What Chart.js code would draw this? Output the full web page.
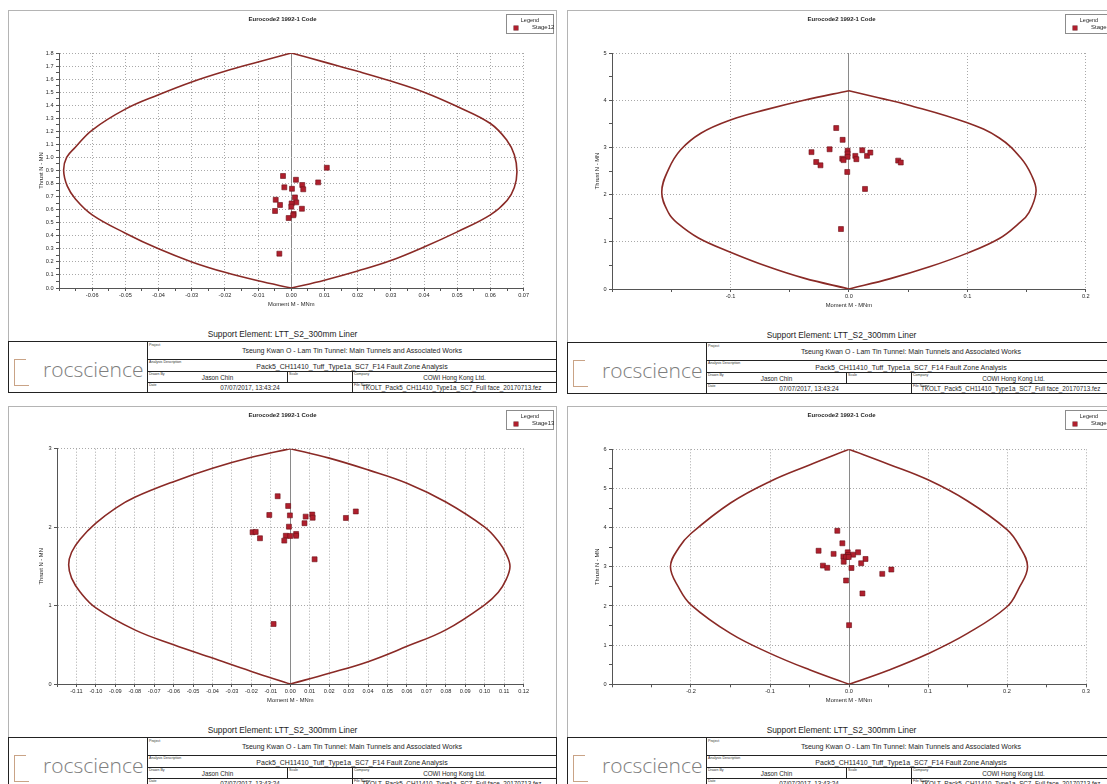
<!DOCTYPE html>
<html>
<head>
<meta charset="utf-8">
<title>Liner capacity plots – LTT_S2_300mm</title>
<script src="https://cdn.jsdelivr.net/npm/chart.js@4/dist/chart.umd.min.js"></script>
<style>
  html, body { margin: 0; padding: 0; background: #fff; }
  body { width: 1107px; height: 784px; overflow: hidden; position: relative;
         font-family: "Liberation Sans", Arial, sans-serif; color: #1e1e1e; }
  .panel { position: absolute; width: 549px; height: 400px; }
  .frame { position: absolute; left: 0; top: 0; width: 549px; border: 1px solid #b4b4b4; box-sizing: border-box; }
  .panel canvas { position: absolute; left: 0; top: 0; }
  .ptitle { position: absolute; left: 0; width: 549px; top: 5px; text-align: center; font-weight: bold; font-size: 6px; line-height: 8px; }
  .legend { position: absolute; left: 498px; top: 4px; width: 48px; height: 20px; border: 1px solid #8c8c8c; box-sizing: border-box; background: #fff; font-size: 6px; line-height: 7px; }
  .legend .lh { position: absolute; left: 0; width: 46px; top: 1.5px; text-align: center; font-size: 5.5px; }
  .legend .lm { position: absolute; left: 7px; top: 10.5px; width: 4px; height: 4px; background: #b01f2d; box-shadow: 0 0 0 0.5px #6a1018; }
  .legend .lt { position: absolute; left: 25px; top: 9px; white-space: nowrap; }
  .caption { position: absolute; left: 0; width: 549px; text-align: center; font-size: 8.4px; line-height: 10px; }
  .tblock { position: absolute; left: 0; width: 549px; height: 52px; border: 1px solid #222; box-sizing: border-box; background: #fff; }
  .tblock .vl { position: absolute; width: 0; border-left: 1px solid #222; }
  .tblock .hl { position: absolute; height: 0; border-top: 1px solid #222; }
  .tblock .lab { position: absolute; font-size: 3.6px; line-height: 4px; color: #333; white-space: nowrap; }
  .tblock .val { position: absolute; font-size: 6.3px; line-height: 8px; white-space: nowrap; text-align: center; }
  .tblock .val.big { font-size: 7px; }
  .logo-v { position: absolute; left: 5px; top: 17px; width: 0; height: 26px; border-left: 1.5px solid #c9a386; }
  .logo-t { position: absolute; left: 5px; top: 17px; width: 12px; height: 0; border-top: 1.5px solid #c9a386; }
  .logo-b { position: absolute; left: 5px; top: 43px; width: 15px; height: 0; border-top: 1.5px solid #c9a386; }
  .logo-txt { position: absolute; left: 34px; top: 17px; font-family: "Open Sans", "Liberation Sans", sans-serif; font-weight: 300; font-size: 21px; line-height: 21px; color: #7e7e7e; }
</style>
</head>
<body>
<script>
// ---------------- Stage12 ----------------
const p1M = [0.0107, -0.0025, 0.0014, 0.0081, 0.0033, 0.0036, -0.0021, 0.0002, 0.0011, -0.0047, 0.0015, -0.0034, 0.0001, 0.0000, 0.0032, -0.0049, 0.0007, 0.0006, -0.0008, -0.0036];
const p1N = [0.921, 0.858, 0.829, 0.809, 0.789, 0.756, 0.771, 0.760, 0.694, 0.676, 0.656, 0.636, 0.648, 0.623, 0.607, 0.590, 0.567, 0.557, 0.536, 0.263];
const p1EnvLeftM  = [0, -0.01, -0.02, -0.03, -0.04, -0.05, -0.06, -0.065, -0.0677, -0.0686, -0.0675, -0.065, -0.06, -0.05, -0.04, -0.03, -0.02, -0.01, 0];
const p1EnvLeftN  = [1.8, 1.731, 1.66, 1.578, 1.48, 1.37, 1.21, 1.08, 1.0, 0.9, 0.78, 0.68, 0.56, 0.42, 0.30, 0.20, 0.12, 0.055, 0];
const p1EnvRightM = [0, 0.01, 0.02, 0.03, 0.04, 0.05, 0.06, 0.065, 0.0672, 0.068, 0.0672, 0.065, 0.06, 0.05, 0.04, 0.03, 0.02, 0.01, 0];
const p1EnvRightN = [1.8, 1.73, 1.66, 1.585, 1.50, 1.39, 1.26, 1.13, 1.02, 0.89, 0.77, 0.67, 0.56, 0.43, 0.314, 0.21, 0.13, 0.06, 0];
const p1XTicks = [-0.07, -0.06, -0.05, -0.04, -0.03, -0.02, -0.01, 0, 0.01, 0.02, 0.03, 0.04, 0.05, 0.06, 0.07];
const p1YTicks = [0, 0.1, 0.2, 0.3, 0.4, 0.5, 0.6, 0.7, 0.8, 0.9, 1.0, 1.1, 1.2, 1.3, 1.4, 1.5, 1.6, 1.7, 1.8];

// ---------------- Stage14 ----------------
const p2M = [-0.0107, -0.0053, -0.0316, -0.0163, -0.0276, -0.0240, -0.0011, -0.0011, -0.0011, -0.0056, -0.0045, 0.0054, 0.0063, 0.0113, 0.0153, 0.0181, 0.0416, 0.0438, -0.0014, 0.0136, -0.0067];
const p2N = [3.41, 3.16, 2.90, 2.96, 2.69, 2.62, 2.93, 2.87, 2.80, 2.76, 2.73, 2.82, 2.75, 2.94, 2.82, 2.89, 2.72, 2.68, 2.48, 2.12, 1.27];
const p2EnvLeftM  = [0, -0.038, -0.07, -0.1, -0.125, -0.142, -0.152, -0.158, -0.152, -0.145, -0.127, -0.1, -0.068, -0.038, 0];
const p2EnvLeftN  = [4.2, 4.0, 3.8, 3.58, 3.3, 2.95, 2.55, 2.05, 1.6, 1.40, 1.08, 0.78, 0.47, 0.23, 0];
const p2EnvRightM = [0, 0.025, 0.05, 0.1, 0.127, 0.145, 0.154, 0.158, 0.152, 0.143, 0.127, 0.1, 0.068, 0.035, 0];
const p2EnvRightN = [4.2, 4.05, 3.9, 3.52, 3.2, 2.78, 2.42, 2.07, 1.62, 1.38, 1.07, 0.76, 0.47, 0.22, 0];
const p2XTicks = [-0.2, -0.1, 0, 0.1, 0.2];
const p2YTicks = [0, 1, 2, 3, 4, 5];

// ---------------- Stage13 ----------------
const p3M = [-0.0065, -0.0011, -0.0108, -0.0002, 0.0079, 0.0113, 0.0115, 0.0286, 0.0337, 0.0073, -0.0007, -0.0194, -0.0178, -0.0156, -0.0023, 0.0000, 0.0030, 0.0030, -0.0031, 0.0125, -0.0086];
const p3N = [2.394, 2.27, 2.155, 2.15, 2.134, 2.16, 2.12, 2.117, 2.20, 2.05, 2.006, 1.935, 1.939, 1.858, 1.89, 1.888, 1.913, 1.89, 1.828, 1.59, 0.765];
const p3EnvLeftM  = [0, -0.02, -0.04, -0.06, -0.08, -0.09, -0.10, -0.108, -0.1125, -0.114, -0.1125, -0.108, -0.10, -0.08, -0.06, -0.04, -0.02, 0];
const p3EnvLeftN  = [3, 2.89, 2.75, 2.58, 2.38, 2.24, 2.05, 1.85, 1.68, 1.52, 1.35, 1.17, 0.97, 0.69, 0.50, 0.33, 0.16, 0];
const p3EnvRightM = [0, 0.02, 0.04, 0.06, 0.08, 0.10, 0.107, 0.111, 0.113, 0.111, 0.107, 0.10, 0.08, 0.06, 0.04, 0.02, 0];
const p3EnvRightN = [3, 2.88, 2.73, 2.56, 2.32, 2.0, 1.82, 1.66, 1.50, 1.33, 1.17, 1.01, 0.69, 0.48, 0.285, 0.136, 0];
const p3XTicks = [-0.12, -0.11, -0.10, -0.09, -0.08, -0.07, -0.06, -0.05, -0.04, -0.03, -0.02, -0.01, 0, 0.01, 0.02, 0.03, 0.04, 0.05, 0.06, 0.07, 0.08, 0.09, 0.10, 0.11, 0.12];
const p3YTicks = [0, 1, 2, 3];

// ---------------- Stage15 ----------------
const p4M = [-0.0148, -0.0084, -0.0385, -0.0195, -0.0016, -0.0012, 0.0052, 0.0115, -0.0071, -0.0037, -0.0004, -0.0067, 0.0209, 0.0154, -0.0330, -0.0275, 0.0031, 0.0421, 0.0536, -0.0037, 0.0170, 0.0001];
const p4N = [3.92, 3.60, 3.41, 3.33, 3.37, 3.30, 3.31, 3.37, 3.26, 3.25, 3.25, 3.13, 3.20, 3.09, 3.03, 2.975, 2.97, 2.82, 2.93, 2.65, 2.32, 1.51];
const p4EnvLeftM  = [0, -0.05, -0.1, -0.15, -0.2, -0.215, -0.226, -0.215, -0.2, -0.15, -0.1, -0.05, 0];
const p4EnvLeftN  = [6, 5.6, 5.18, 4.63, 3.85, 3.5, 3.0, 2.45, 2.03, 1.30, 0.79, 0.37, 0];
const p4EnvRightM = [0, 0.05, 0.1, 0.15, 0.2, 0.215, 0.226, 0.215, 0.2, 0.15, 0.1, 0.05, 0];
const p4EnvRightN = [6, 5.62, 5.22, 4.68, 3.95, 3.55, 3.0, 2.45, 1.98, 1.30, 0.78, 0.36, 0];
const p4XTicks = [-0.3, -0.2, -0.1, 0, 0.1, 0.2, 0.3];
const p4YTicks = [0, 1, 2, 3, 4, 5, 6];

// ---------------- shared text ----------------
const CHART_TITLE = 'Eurocode2 1992-1 Code';
const X_TITLE = 'Moment M - MNm';
const Y_TITLE = 'Thrust N - MN';
const CAPTION = 'Support Element: LTT_S2_300mm Liner';
const PROJECT = 'Tseung Kwan O - Lam Tin Tunnel: Main Tunnels and Associated Works';
const ANALYSIS = 'Pack5_CH11410_Tuff_Type1a_SC7_F14 Fault Zone Analysis';
const DRAWN_BY = 'Jason Chin';
const COMPANY = 'COWI Hong Kong Ltd.';
const DATE = '07/07/2017, 13:43:24';
const FILE_NAME = 'TKOLT_Pack5_CH11410_Type1a_SC7_Full face_20170713.fez';

const POINT_FILL = '#b01f2d', POINT_EDGE = '#6a1018', ENVELOPE = '#8a2a26';
const GRID = '#a9a9a9', ZERO_LINE = '#8a8a8a';
const CANVAS_W = 548, CANVAS_H = 300, X_AXIS_H = 20;

// frame position on the page, plot area inside the frame, y-axis box width
const panels = [
  { id: 'c1', left: 8,   top: 10,  stage: 'Stage12', m: p1M, n: p1N,
    envL: [p1EnvLeftM, p1EnvLeftN], envR: [p1EnvRightM, p1EnvRightN],
    xTicks: p1XTicks, yTicks: p1YTicks, xDec: 2, yDec: 1, xMinor: true, yMinor: true,
    area: { l: 51, t: 43, r: 515.6, b: 278 }, yW: 21 },
  { id: 'c2', left: 567, top: 10,  stage: 'Stage14', m: p2M, n: p2N,
    envL: [p2EnvLeftM, p2EnvLeftN], envR: [p2EnvRightM, p2EnvRightN],
    xTicks: p2XTicks, yTicks: p2YTicks, xDec: 1, yDec: 0, xMinor: true, yMinor: true,
    area: { l: 45, t: 43, r: 518.8, b: 279 }, yW: 18 },
  { id: 'c3', left: 8,   top: 406, stage: 'Stage13', m: p3M, n: p3N,
    envL: [p3EnvLeftM, p3EnvLeftN], envR: [p3EnvRightM, p3EnvRightN],
    xTicks: p3XTicks, yTicks: p3YTicks, xDec: 2, yDec: 0, xMinor: false, yMinor: false,
    area: { l: 49, t: 42.7, r: 515.6, b: 278 }, yW: 19 },
  { id: 'c4', left: 567, top: 406, stage: 'Stage15', m: p4M, n: p4N,
    envL: [p4EnvLeftM, p4EnvLeftN], envR: [p4EnvRightM, p4EnvRightN],
    xTicks: p4XTicks, yTicks: p4YTicks, xDec: 1, yDec: 0, xMinor: true, yMinor: true,
    area: { l: 45, t: 43.3, r: 519, b: 278.3 }, yW: 18 }
];

function titleBlockHTML() {
  return `
    <div class="logo-v"></div><div class="logo-t"></div><div class="logo-b"></div>
    <div class="logo-txt">rocscience</div>
    <div class="vl" style="left:138px;top:0;height:50px"></div>
    <div class="hl" style="left:138px;top:17px;width:409px"></div>
    <div class="hl" style="left:138px;top:29px;width:409px"></div>
    <div class="hl" style="left:138px;top:40px;width:409px"></div>
    <div class="vl" style="left:278px;top:29px;height:11px"></div>
    <div class="vl" style="left:343px;top:29px;height:21px"></div>
    <div class="lab" style="left:140px;top:0.5px">Project</div>
    <div class="val big" style="left:139px;width:408px;top:5px">${PROJECT}</div>
    <div class="lab" style="left:140px;top:18px">Analysis Description</div>
    <div class="val big" style="left:139px;width:408px;top:20.5px">${ANALYSIS}</div>
    <div class="lab" style="left:140px;top:30px">Drawn By</div>
    <div class="val" style="left:139px;width:139px;top:31.5px">${DRAWN_BY}</div>
    <div class="lab" style="left:280px;top:30px">Scale</div>
    <div class="lab" style="left:345px;top:30px">Company</div>
    <div class="val" style="left:344px;width:203px;top:31.5px">${COMPANY}</div>
    <div class="lab" style="left:140px;top:41px">Date</div>
    <div class="val" style="left:139px;width:204px;top:42px">${DATE}</div>
    <div class="lab" style="left:345px;top:41px">File Name</div>
    <div class="val" style="left:353px;top:42px;text-align:left">${FILE_NAME}</div>`;
}

function buildPanel(p) {
  const div = document.createElement('div');
  div.className = 'panel';
  div.style.left = p.left + 'px';
  div.style.top = p.top + 'px';
  const tableTop = p.area.b + 53;
  div.innerHTML = `
    <div class="frame" style="height:${tableTop + 52}px"></div>
    <canvas id="${p.id}" width="${CANVAS_W}" height="${CANVAS_H}" style="width:${CANVAS_W}px;height:${CANVAS_H}px"></canvas>
    <div class="ptitle">${CHART_TITLE}</div>
    <div class="legend"><div class="lh">Legend</div><div class="lm"></div><div class="lt">${p.stage}</div></div>
    <div class="caption" style="top:${p.area.b + 41}px">${CAPTION}</div>
    <div class="tblock" style="top:${tableTop}px">${titleBlockHTML()}</div>`;
  document.body.appendChild(div);
  return div.querySelector('canvas');
}

// major ticks come from the tick arrays; optional minor ticks sit halfway between them
function tickList(majors, withMinor) {
  const out = [];
  majors.forEach((v, i) => {
    out.push({ value: v, minor: false });
    if (withMinor && i < majors.length - 1) out.push({ value: (v + majors[i + 1]) / 2, minor: true });
  });
  return out;
}

const isZero = c => c.tick && Math.abs(c.tick.value) < 1e-9;

function axis(majors, dec, minor, horizontal, boxSize, title) {
  return {
    type: 'linear',
    min: majors[0],
    max: majors[majors.length - 1],
    afterBuildTicks: s => { s.ticks = tickList(majors, minor); },
    afterFit: s => { if (horizontal) s.height = boxSize; else s.width = boxSize; },
    ticks: {
      autoSkip: false, maxRotation: 0, minRotation: 0, padding: horizontal ? 1 : 2.5,
      color: '#262626', font: { size: 5.6 },
      callback: function (v, i, t) {
        if (t[i] && t[i].minor) return '';
        if (horizontal && i === 0) return '';
        return Number(v).toFixed(dec);
      }
    },
    grid: {
      color: c => (c.tick && c.tick.minor) ? 'rgba(0,0,0,0)' : (horizontal && isZero(c) ? ZERO_LINE : GRID),
      lineWidth: 1, drawTicks: true, tickLength: 3, tickColor: '#555'
    },
    border: {
      display: true, color: '#555', width: 1,
      dash: c => (horizontal && isZero(c)) ? [] : [1, 2]
    },
    title: { display: true, text: title, color: '#262626', font: { size: 5.8 }, padding: 0 }
  };
}

function pairs(xs, ys) { return xs.map((x, i) => ({ x: x, y: ys[i] })); }

Chart.defaults.font.family = '"Liberation Sans", Arial, sans-serif';

panels.forEach(p => {
  const canvas = buildPanel(p);
  const envStyle = { showLine: true, pointRadius: 0, borderColor: ENVELOPE, backgroundColor: ENVELOPE,
                     borderWidth: 1.6, tension: 0.4, fill: false };
  new Chart(canvas, {
    type: 'scatter',
    data: {
      datasets: [
        { label: p.stage, data: pairs(p.m, p.n), pointStyle: 'rect', pointRadius: 3.5, pointHoverRadius: 3.5,
          backgroundColor: POINT_FILL, borderColor: POINT_EDGE, borderWidth: 0.6 },
        Object.assign({ label: 'Capacity envelope (M < 0)', data: pairs(p.envL[0], p.envL[1]) }, envStyle),
        Object.assign({ label: 'Capacity envelope (M > 0)', data: pairs(p.envR[0], p.envR[1]) }, envStyle)
      ]
    },
    options: {
      responsive: false, animation: false, devicePixelRatio: 1, events: [],
      layout: { padding: { left: p.area.l - p.yW, top: p.area.t, right: CANVAS_W - p.area.r,
                           bottom: CANVAS_H - p.area.b - X_AXIS_H } },
      plugins: { legend: { display: false }, tooltip: { enabled: false }, title: { display: false } },
      scales: {
        x: axis(p.xTicks, p.xDec, p.xMinor, true, X_AXIS_H, X_TITLE),
        y: axis(p.yTicks, p.yDec, p.yMinor, false, p.yW, Y_TITLE)
      }
    }
  });
});
</script>
</body>
</html>
